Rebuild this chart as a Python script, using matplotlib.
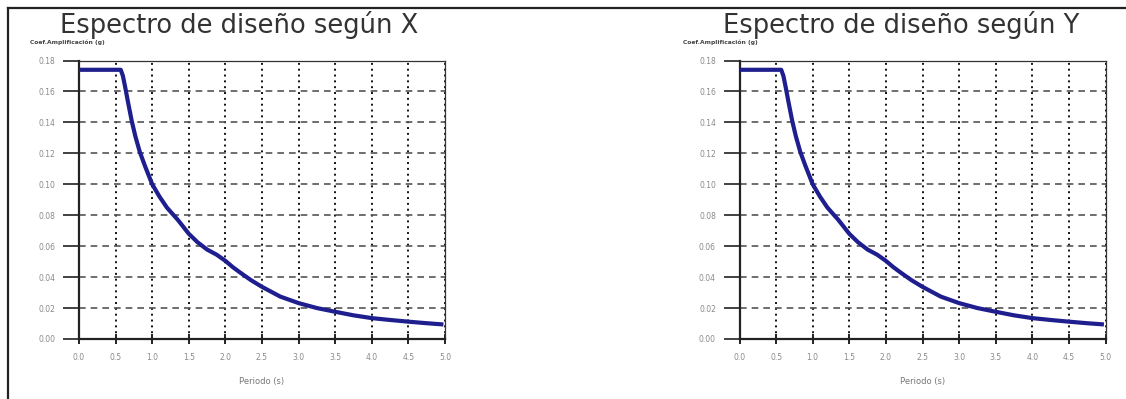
import matplotlib
matplotlib.use("Agg")
import matplotlib.pyplot as plt
from matplotlib.lines import Line2D

# ---- data ----
titles = ["Espectro de diseño según X", "Espectro de diseño según Y"]
ylabel = "Coef.Amplificación (g)"
xlabel = "Periodo (s)"
periodo_x = [0.0, 0.57, 0.60, 0.63, 0.67, 0.72, 0.77, 0.83, 0.90, 1.00, 1.10, 1.20, 1.35, 1.50,
             1.62, 1.75, 1.88, 2.00, 2.10, 2.20, 2.35, 2.50, 2.75, 3.00, 3.25, 3.50, 3.75,
             4.00, 4.25, 4.50, 4.75, 4.95]
coef_x    = [0.174, 0.174, 0.170, 0.163, 0.153, 0.141, 0.131, 0.121, 0.112, 0.100, 0.092, 0.085,
             0.077, 0.068, 0.0625, 0.0578, 0.0545, 0.0505, 0.0465, 0.043, 0.038, 0.0337, 0.0274,
             0.0232, 0.0200, 0.0176, 0.0153, 0.0135, 0.0123, 0.0112, 0.0102, 0.0095]
periodo_y = periodo_x
coef_y    = coef_x
xticks = [0.0, 0.5, 1.0, 1.5, 2.0, 2.5, 3.0, 3.5, 4.0, 4.5, 5.0]
yticks = [0.00, 0.02, 0.04, 0.06, 0.08, 0.10, 0.12, 0.14, 0.16, 0.18]

W, H = 1126, 399
fig = plt.figure(figsize=(W / 100, H / 100), dpi=100)
fig.patch.set_facecolor("white")

panels = [
    dict(ax_left=79, title_x=60, ylabel_x=30, T=periodo_x, S=coef_x, title=titles[0]),
    dict(ax_left=739.5, title_x=723, ylabel_x=683, T=periodo_y, S=coef_y, title=titles[1]),
]
ax_w = 366
ax_top, ax_bot = 60.5, 339

for p in panels:
    ax = fig.add_axes([p["ax_left"] / W, 1 - ax_bot / H, ax_w / W, (ax_bot - ax_top) / H])
    ax.plot(p["T"], p["S"], color="#1e1e8e", lw=3.0, solid_joinstyle="round", zorder=3)
    ax.set_xlim(0, 5)
    ax.set_ylim(0, 0.18)
    ax.set_xticks(xticks)
    ax.set_yticks(yticks)
    ax.set_xticklabels([f"{v:.1f}" for v in xticks])
    ax.set_yticklabels([f"{v:.2f}" for v in yticks])
    ax.tick_params(axis="y", direction="out", length=11.5, width=1.3, color="#333333",
                   pad=5.5, labelsize=5.5, labelcolor="#8a8a8a")
    ax.tick_params(axis="x", direction="inout", length=6.5, width=1.4, color="#222222",
                   pad=6.5, labelsize=5.5, labelcolor="#8a8a8a")
    ax.yaxis.grid(True, linestyle=(0, (4, 3)), color="#555555", lw=1.2)
    ax.xaxis.grid(True, linestyle=(0, (1, 2)), color="#111111", lw=1.4)
    ax.set_axisbelow(True)
    for s in ["left", "bottom"]:
        ax.spines[s].set_linewidth(1.6)
        ax.spines[s].set_color("#222222")
    for s in ["top", "right"]:
        ax.spines[s].set_linewidth(0.9)
        ax.spines[s].set_color("#333333")
    ax.set_xlabel(xlabel, fontsize=6, color="#777777")
    ax.xaxis.set_label_coords(0.5, -0.135)
    fig.text(p["title_x"] / W, 1 - 33 / H, p["title"], fontsize=18.5, color="#333333",
             ha="left", va="baseline")
    fig.text(p["ylabel_x"] / W, 1 - 42 / H, ylabel, fontsize=4.3, color="#444444",
             fontweight="bold", ha="left", va="center")

# outer frame (top and left edges)
fig.add_artist(Line2D([8 / W, 1.0], [1 - 8 / H, 1 - 8 / H], transform=fig.transFigure,
                      color="#222222", lw=1.6))
fig.add_artist(Line2D([8 / W, 8 / W], [0.0, 1 - 8 / H], transform=fig.transFigure,
                      color="#222222", lw=1.6))

fig.savefig("out.png", dpi=100, facecolor="white")
